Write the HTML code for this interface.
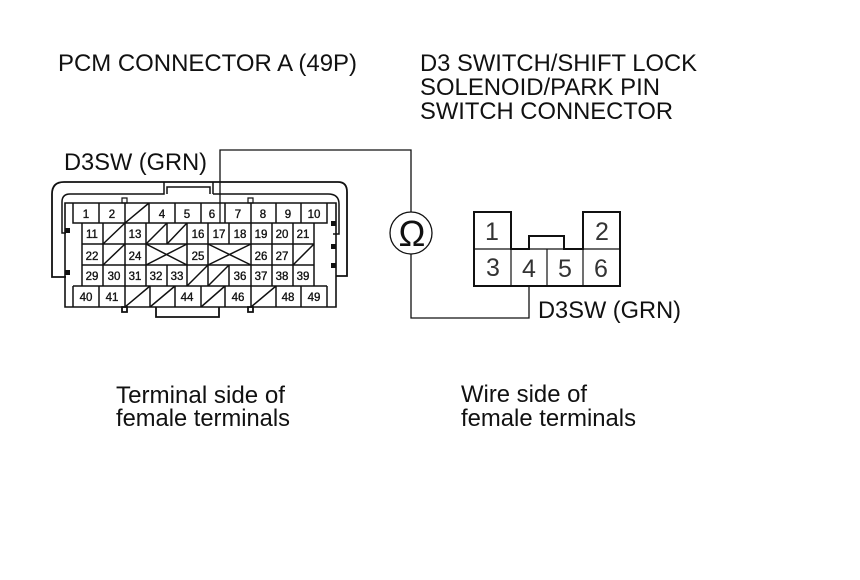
<!DOCTYPE html>
<html><head><meta charset="utf-8"><style>
html,body{margin:0;padding:0;background:#fff;width:860px;height:580px;overflow:hidden}
svg{display:block}
text{font-family:"Liberation Sans",sans-serif;fill:#111}
.l{font-size:24px}
.n{font-size:11.5px;text-anchor:middle;stroke:#111;stroke-width:.35}
.d{font-size:25px;text-anchor:middle;fill:#333}
</style></head><body>
<svg width="860" height="580" viewBox="0 0 860 580" xmlns="http://www.w3.org/2000/svg">
<rect width="860" height="580" fill="#fff"/>
<text class="l" x="58" y="71" textLength="299" lengthAdjust="spacingAndGlyphs">PCM CONNECTOR A (49P)</text>
<text class="l" x="420" y="71" textLength="277" lengthAdjust="spacingAndGlyphs">D3 SWITCH/SHIFT LOCK</text>
<text class="l" x="420" y="95" textLength="240" lengthAdjust="spacingAndGlyphs">SOLENOID/PARK PIN</text>
<text class="l" x="420" y="119" textLength="253" lengthAdjust="spacingAndGlyphs">SWITCH CONNECTOR</text>
<text class="l" x="64" y="170" textLength="143" lengthAdjust="spacingAndGlyphs">D3SW (GRN)</text>
<text class="l" x="538" y="318" textLength="143" lengthAdjust="spacingAndGlyphs">D3SW (GRN)</text>
<text class="l" x="116" y="403" textLength="169" lengthAdjust="spacingAndGlyphs">Terminal side of</text>
<text class="l" x="116" y="426" textLength="174" lengthAdjust="spacingAndGlyphs">female terminals</text>
<text class="l" x="461" y="402" textLength="126" lengthAdjust="spacingAndGlyphs">Wire side of</text>
<text class="l" x="461" y="426" textLength="175" lengthAdjust="spacingAndGlyphs">female terminals</text>

<g fill="none" stroke="#111" stroke-width="1.5">
<path d="M66 277H52V194Q52 182 64 182H338Q347 182 347 192V276H336" stroke-width="1.8"/>
<path d="M66 233H62V202Q62 194 70 194H164V182M167 194V187H210V194M213 194V182M213 194H328Q339 194 339 204V234H333"/>
<path d="M65 203H336V307H65Z" stroke-width="1.6"/>
<path d="M156 307V317H219V307" stroke-width="1.8"/>
<path d="M122 198h5v5h-5zM248 198h5v5h-5z" stroke-width="1.2"/>
<path d="M122 307h5v5h-5zM248 307h5v5h-5z" stroke-width="1.8"/>
<!-- grid -->
<path d="M73 203V223H327V203M99 203V223M125 203V223M149 203V223M175 203V223M201 203V223M225 203V223M251 203V223M276 203V223M301 203V223"/>
<path d="M82 223V286M103 223V286M125 223V286M146 223V286M167 223V244M187 223V286M208 223V286M229 223V244M251 223V286M272 223V286M293 223V286M314 223V286M167 265V286M229 265V286"/>
<path d="M82 244H314M82 265H314"/>
<path d="M73 286H327M73 286V307M99 286V307M125 286V307M150 286V307M175 286V307M201 286V307M225 286V307M251 286V307M276 286V307M301 286V307M327 286V307"/>
<!-- slashes -->
<path d="M125 223L149 203M103 244L125 223M146 244L167 223M167 244L187 223M103 265L125 244M293 265L314 244M187 286L208 265M208 286L229 265M125 307L150 286M150 307L175 286M201 307L225 286M251 307L276 286"/>
<path d="M146 244L187 265M146 265L187 244M208 244L251 265M208 265L251 244"/>
<!-- wires -->
<path d="M220 223V150H411V212M411 254V318H529V286" stroke-width="1.3"/>
<circle cx="411" cy="233" r="21" stroke-width="1.3"/>
<!-- right connector -->
<path d="M474 212H511V249H529V236H564V249H583V212H620V286H474Z" stroke-width="2"/>
<path d="M474 249H620M511 249V286M547 249V286M583 249V286" stroke-width="1.2"/>
</g>
<g fill="#111">
<rect x="65" y="228" width="5" height="5"/><rect x="65" y="270" width="5" height="5"/>
<rect x="331" y="221" width="5" height="5"/><rect x="331" y="244" width="5" height="5"/><rect x="331" y="263" width="5" height="5"/>
</g>
<text x="412" y="246" style="font-size:36px;text-anchor:middle">Ω</text>
<g class="d">
<text class="d" x="492" y="240">1</text><text class="d" x="602" y="240">2</text>
<text class="d" x="493" y="276">3</text><text class="d" x="529" y="277">4</text><text class="d" x="565" y="277">5</text><text class="d" x="601" y="277">6</text>
</g>
<text class="n" x="86" y="218">1</text><text class="n" x="112" y="218">2</text><text class="n" x="162" y="218">4</text><text class="n" x="187" y="218">5</text><text class="n" x="212" y="218">6</text><text class="n" x="238" y="218">7</text><text class="n" x="263" y="218">8</text><text class="n" x="288" y="218">9</text><text class="n" x="314" y="218">10</text>
<text class="n" x="92" y="238">11</text><text class="n" x="135" y="238">13</text><text class="n" x="198" y="238">16</text><text class="n" x="219" y="238">17</text><text class="n" x="240" y="238">18</text><text class="n" x="261" y="238">19</text><text class="n" x="282" y="238">20</text><text class="n" x="303" y="238">21</text>
<text class="n" x="92" y="260">22</text><text class="n" x="135" y="260">24</text><text class="n" x="198" y="260">25</text><text class="n" x="261" y="260">26</text><text class="n" x="282" y="260">27</text>
<text class="n" x="92" y="280">29</text><text class="n" x="114" y="280">30</text><text class="n" x="135" y="280">31</text><text class="n" x="156" y="280">32</text><text class="n" x="177" y="280">33</text><text class="n" x="240" y="280">36</text><text class="n" x="261" y="280">37</text><text class="n" x="282" y="280">38</text><text class="n" x="303" y="280">39</text>
<text class="n" x="86" y="301">40</text><text class="n" x="112" y="301">41</text><text class="n" x="187" y="301">44</text><text class="n" x="238" y="301">46</text><text class="n" x="288" y="301">48</text><text class="n" x="314" y="301">49</text>
</svg>
</body></html>
